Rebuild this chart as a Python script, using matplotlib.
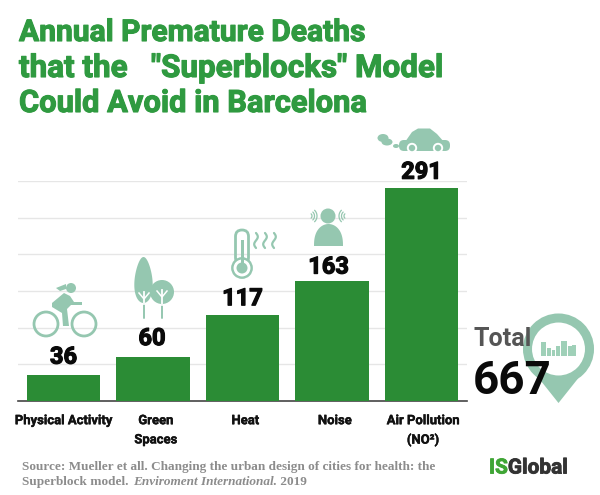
import matplotlib
matplotlib.use("Agg")
import matplotlib.pyplot as plt
import matplotlib.patheffects as pe
from matplotlib.patches import Circle, Ellipse, Polygon, Rectangle, FancyBboxPatch
import numpy as np

categories = ["Physical Activity", "Green\nSpaces", "Heat", "Noise", "Air Pollution\n(NO²)"]
values = [36, 60, 117, 163, 291]
grid_values = [50, 100, 150, 200, 250, 300]
title_lines = ["Annual Premature Deaths", 'that the   "Superblocks" Model', "Could Avoid in Barcelona"]
total_label = "Total"
total_value = "667"

W, H = 600, 495
GREEN = "#2b8c35"
TITLE = "#2f9a40"
PALE = "#95c7b0"
plt.rcParams["font.family"] = ["Roboto", "DejaVu Sans"]

def thick(w, color):
    return [pe.withStroke(linewidth=w, foreground=color)]

fig = plt.figure(figsize=(6, 4.95), dpi=100, facecolor="white")

ax = fig.add_axes([18 / W, 1 - 401 / H, 449 / W, 220 / H])
ax.set_xlim(-0.508, 4.508)
ax.set_ylim(0, 300)
x = np.arange(len(categories))
ax.set_axisbelow(True)
ax.bar(x, values, width=0.82, color=GREEN, zorder=3)
ax.set_yticks(grid_values)
ax.yaxis.grid(True, color="#e6e6e6", lw=1.0)
ax.xaxis.grid(False)
for s in ["top", "left", "right"]:
    ax.spines[s].set_visible(False)
ax.spines["bottom"].set_color("#444444")
ax.spines["bottom"].set_linewidth(1.2)
ax.tick_params(left=False, labelleft=False, bottom=False, labelbottom=False)

# overlay in pixel coordinates for icons and free text
ov = fig.add_axes([0, 0, 1, 1], facecolor="none", zorder=6)
ov.set_xlim(0, W)
ov.set_ylim(H, 0)
ov.axis("off")

for xi, v, dx, dy in zip(x, values, [0, -0.7, 0, -2.5, 0], [4.3, 5, 3.6, 2.1, 2.8]):
    ax.annotate(str(v), (xi, v), xytext=(dx, dy), textcoords="offset points", ha="center",
                va="bottom", fontsize=17, fontweight="bold", color="#0a0a0a",
                zorder=5, path_effects=thick(0.9, "#0a0a0a"))
for xi, c, dx in zip(x, categories, [0, 2, 2, 2, 1]):
    ax.annotate(c, (xi, 0), xytext=(dx, -9.5), textcoords="offset points", ha="center",
                va="top", fontsize=9.4, fontweight="bold", color="#111111",
                linespacing=1.62, annotation_clip=False, path_effects=thick(0.3, "#111111"))

for line, y, fs in zip(title_lines, [33, 68, 103], [21.6, 22.6, 22.2]):
    ov.text(19, y, line, fontsize=fs, fontweight="bold", color=TITLE, va="center", ha="left",
            path_effects=thick(0.8, TITLE))

def ring(cx, cy, r, lw=2.0, color=PALE):
    ov.add_patch(Circle((cx, cy), r, fill=False, ec=color, lw=lw))

def fill(patch):
    patch.set_facecolor(PALE)
    patch.set_edgecolor("none")
    ov.add_patch(patch)

def stroke(xs, ys, lw=1.8):
    ov.plot(xs, ys, color=PALE, lw=lw, solid_capstyle="round", solid_joinstyle="round")

# cyclist
ring(46, 324, 12)
ring(84, 324, 12)
fill(Circle((71, 288), 5))
fill(Polygon([(52, 303), (64, 293), (70, 296), (74, 302), (82, 302), (82, 305), (71, 305), (67, 309),
              (69, 326), (63, 326), (62, 313), (52, 307)]))
fill(Polygon([(56, 288), (66, 284), (66, 289), (60, 291)]))

# trees
t = np.linspace(0, 2 * np.pi, 80)
ty = 280 - 23 * np.cos(t)
tx = 143.5 + 11 * np.sin(t) * (0.55 + 0.45 * (ty - 257) / 46) ** 0.8
fill(Polygon(np.column_stack([tx, ty])))
fill(Circle((162, 292), 12))
for cx in (144, 162):
    stroke([cx, cx], [303, 318], lw=1.4)
ov.plot([144, 144], [292, 304], color="white", lw=1.3)
ov.plot([162, 162], [290, 305], color="white", lw=1.3)
ov.plot([139, 144, 149], [293, 299, 293], color="white", lw=1.1)
ov.plot([157, 162, 167], [291, 297, 291], color="white", lw=1.1)

# thermometer
ring(242, 268, 9.5, lw=2.0)
ov.add_patch(FancyBboxPatch((235.5, 230), 13, 34, boxstyle="round,pad=0,rounding_size=6.5",
                            fill=False, ec=PALE, lw=2.0))
ov.add_patch(Circle((242, 268), 8.4, fc="white", ec="none"))
fill(Circle((242, 268), 5.5))
fill(Rectangle((240.5, 240), 3, 24))
for wx in (256, 265, 274):
    yy = np.linspace(233, 248, 30)
    stroke(wx + 1.8 * np.sin((yy - 233) / 15 * 2 * np.pi), yy, lw=1.6)

# person with sound waves
fill(Circle((328, 216), 7.5))
a = np.linspace(0, np.pi, 40)
dome = np.column_stack([328.5 + 14.5 * np.cos(a), 246 - 22 * np.sin(a) ** 0.8])
fill(Polygon(dome))
for r in (3, 5.5, 8):
    a2 = np.linspace(-0.8, 0.8, 20)
    stroke(309 + r * np.cos(a2), 216 + r * np.sin(a2), lw=0.9)
    stroke(347 - r * np.cos(a2), 216 + r * np.sin(a2), lw=0.9)

# car
fill(FancyBboxPatch((399, 140), 51, 11, boxstyle="round,pad=0,rounding_size=5"))
fill(Polygon([(405, 142), (412, 132), (418, 128.5), (430, 128.5), (437, 134), (444, 142)]))
for cx in (412, 438):
    ov.add_patch(Circle((cx, 148), 4.2, fc=PALE, ec="white", lw=1.4))
fill(Ellipse((383, 138), 11, 8))
fill(Ellipse((387, 142), 11, 7))
fill(Ellipse((396, 146), 6, 4))

# location pin
fill(Polygon([(537, 376), (580, 376), (558.5, 403)]))
ov.add_patch(Circle((558.5, 349), 31, fill=False, ec=PALE, lw=6.5))
for bx, bw, bt in [(541, 5, 342), (547, 4, 348), (552, 3, 350), (556, 4, 346),
                   (561, 6, 341), (568, 4, 346), (572, 4, 345)]:
    ov.add_patch(Rectangle((bx, bt), bw, 356 - bt, fc="#9fd0b8", ec="none"))

ov.text(474, 339, total_label, fontsize=18, fontweight="bold", color="#555555", va="center", ha="left")
ov.text(473, 381, total_value, fontsize=33, fontweight="bold", color="#0a0a0a", va="center", ha="left")

# source
SRC = "#8c8c8c"
SFS = 9.55
ov.text(22, 467, "Source: Mueller et all. Changing the urban design of cities for health: the",
        family="Liberation Serif", fontweight="bold", fontsize=SFS, color=SRC, va="center")
s1 = ov.text(22, 482, "Superblock model. ", family="Liberation Serif", fontweight="bold",
             fontsize=SFS, color=SRC, va="center")
s2 = ov.annotate("Enviroment International.", xy=(1, 0.5), xycoords=s1, xytext=(1, 0),
                 textcoords="offset points", family="Liberation Serif", fontweight="bold",
                 style="italic", fontsize=SFS, color=SRC, va="center")
ov.annotate(" 2019", xy=(1, 0.5), xycoords=s2, family="Liberation Serif", fontweight="bold",
            fontsize=SFS, color=SRC, va="center")

# logo
i = ov.text(489, 468, "IS", fontsize=15, fontweight="bold", color="#3fa535", va="center",
            path_effects=thick(0.6, "#3fa535"))
ov.annotate("Global", xy=(1, 0.5), xycoords=i, fontsize=15, fontweight="bold",
            color="#333333", va="center", path_effects=thick(0.6, "#333333"))

fig.savefig("out.png", dpi=100)
